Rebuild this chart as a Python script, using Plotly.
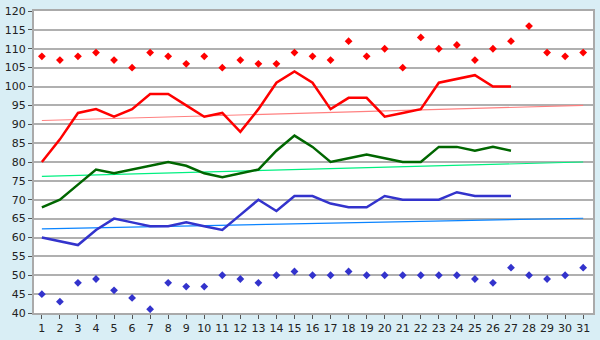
import plotly.graph_objects as go

days = list(range(1, 32))
line_days = list(range(1, 28))

red_points = [108, 107, 108, 109, 107, 105, 109, 108, 106, 108, 105, 107, 106, 106, 109, 108,
              107, 112, 108, 110, 105, 113, 110, 111, 107, 110, 112, 116, 109, 108, 109]
blue_points = [45, 43, 48, 49, 46, 44, 41, 48, 47, 47, 50, 49, 48, 50, 51, 50,
               50, 51, 50, 50, 50, 50, 50, 50, 49, 48, 52, 50, 49, 50, 52]
red_line = [80, 86, 93, 94, 92, 94, 98, 98, 95, 92, 93, 88, 94, 101, 104, 101, 94,
            97, 97, 92, 93, 94, 101, 102, 103, 100, 100]
green_line = [68, 70, 74, 78, 77, 78, 79, 80, 79, 77, 76, 77, 78, 83, 87, 84, 80,
              81, 82, 81, 80, 80, 84, 84, 83, 84, 83]
blue_line = [60, 59, 58, 62, 65, 64, 63, 63, 64, 63, 62, 66, 70, 67, 71, 71, 69,
             68, 68, 71, 70, 70, 70, 72, 71, 71, 71]
red_trend = [91.0, 95.0]
green_trend = [76.2, 80.0]
blue_trend = [62.3, 65.1]
trend_days = [1, 31]

fig = go.Figure()
fig.add_trace(go.Scatter(x=trend_days, y=red_trend, mode="lines",
                         line=dict(color="#ff8080", width=1.2)))
fig.add_trace(go.Scatter(x=trend_days, y=green_trend, mode="lines",
                         line=dict(color="#00f080", width=1.2)))
fig.add_trace(go.Scatter(x=trend_days, y=blue_trend, mode="lines",
                         line=dict(color="#0a84ff", width=1.2)))
fig.add_trace(go.Scatter(x=line_days, y=red_line, mode="lines",
                         line=dict(color="#ff0000", width=2.5)))
fig.add_trace(go.Scatter(x=line_days, y=green_line, mode="lines",
                         line=dict(color="#006600", width=2.5)))
fig.add_trace(go.Scatter(x=line_days, y=blue_line, mode="lines",
                         line=dict(color="#3333cc", width=2.5)))
fig.add_trace(go.Scatter(x=days, y=red_points, mode="markers",
                         marker=dict(symbol="diamond", size=6, color="#ff0000")))
fig.add_trace(go.Scatter(x=days, y=blue_points, mode="markers",
                         marker=dict(symbol="diamond", size=6, color="#3333cc")))

fig.update_layout(
    width=600, height=340,
    margin=dict(l=27, r=5, t=5, b=20),
    paper_bgcolor="#d9eef5", plot_bgcolor="#ffffff",
    showlegend=False,
    font=dict(family="DejaVu Sans", size=11, color="#222222"),
)
fig.update_xaxes(range=[0.564, 31.545], tickmode="array", tickvals=days,
                 ticktext=[str(d) for d in days], showgrid=False,
                 showline=True, linecolor="#aaaaaa", linewidth=2, mirror=True,
                 ticks="outside", ticklen=4, tickcolor="#555555", zeroline=False)
fig.update_yaxes(range=[40, 120], dtick=5, showgrid=True, gridcolor="#b0b0b0", gridwidth=2,
                 showline=True, linecolor="#aaaaaa", linewidth=2, mirror=True,
                 ticks="outside", ticklen=4, tickcolor="#555555", zeroline=False)

fig.write_html("out.html")
